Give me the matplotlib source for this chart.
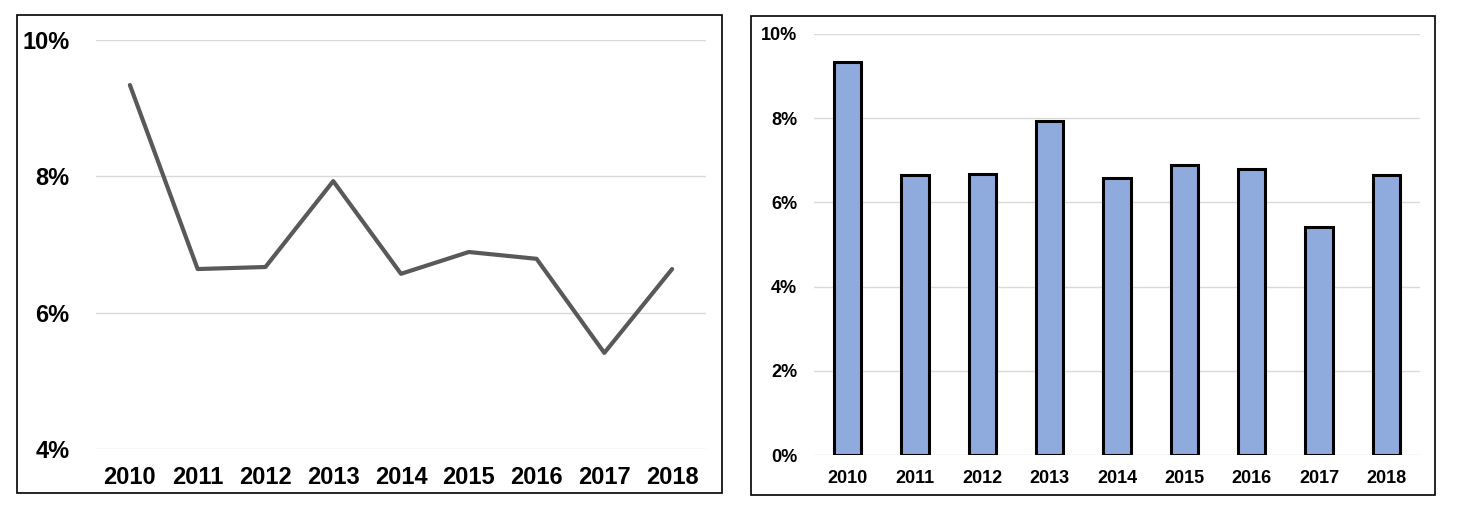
import matplotlib
matplotlib.use("Agg")
import matplotlib.pyplot as plt
from matplotlib.patches import Rectangle
from matplotlib.ticker import FuncFormatter

years = ["2010", "2011", "2012", "2013", "2014", "2015", "2016", "2017", "2018"]
rates = [9.34, 6.64, 6.67, 7.93, 6.57, 6.89, 6.79, 5.41, 6.64]

left_ticks = [4, 6, 8, 10]
right_ticks = [0, 2, 4, 6, 8, 10]

plt.rcParams["font.family"] = ["Liberation Sans", "DejaVu Sans"]
plt.rcParams["font.weight"] = "bold"

fig = plt.figure(figsize=(14.57, 5.16), dpi=100)

# outer frames around each chart
for x0, y0, x1, y1 in [(17, 15, 722, 493), (751, 16, 1435, 495)]:
    fig.patches.append(Rectangle((x0 / 1457, 1 - y1 / 516), (x1 - x0) / 1457, (y1 - y0) / 516,
                                 transform=fig.transFigure, fill=False,
                                 edgecolor="black", linewidth=1.2))

pct = FuncFormatter(lambda v, p: f"{v:.0f}%")
xs = list(range(len(years)))

# left: line chart
ax1 = fig.add_axes([96 / 1457, 67 / 516, 610 / 1457, 409 / 516])
ax1.plot(xs, rates, color="#595959", linewidth=3, solid_capstyle="round", zorder=3)
ax1.set_ylim(4, 10)
ax1.set_xlim(-0.5, len(years) - 0.5)
ax1.set_yticks(left_ticks)
ax1.yaxis.set_major_formatter(pct)
ax1.set_xticks(xs)
ax1.set_xticklabels(years)
ax1.grid(axis="y", color="#D9D9D9", linewidth=1)
ax1.set_axisbelow(True)
for s in ax1.spines.values():
    s.set_visible(False)
ax1.tick_params(axis="y", length=0, pad=19, labelsize=17)
ax1.tick_params(axis="x", length=0, pad=12, labelsize=17)

# right: bar chart
ax2 = fig.add_axes([814 / 1457, 61 / 516, 606 / 1457, 421 / 516])
ax2.bar(xs, rates, width=0.41, color="#8FAADC", edgecolor="black", linewidth=2.2, zorder=3)
ax2.set_ylim(0, 10)
ax2.set_xlim(-0.5, len(years) - 0.5)
ax2.set_yticks(right_ticks)
ax2.yaxis.set_major_formatter(pct)
ax2.set_xticks(xs)
ax2.set_xticklabels(years)
ax2.grid(axis="y", color="#D9D9D9", linewidth=1)
ax2.set_axisbelow(True)
for s in ax2.spines.values():
    s.set_visible(False)
ax2.tick_params(axis="y", length=0, pad=12, labelsize=13)
ax2.tick_params(axis="x", length=0, pad=11, labelsize=13)

fig.savefig("out.png", dpi=100)
